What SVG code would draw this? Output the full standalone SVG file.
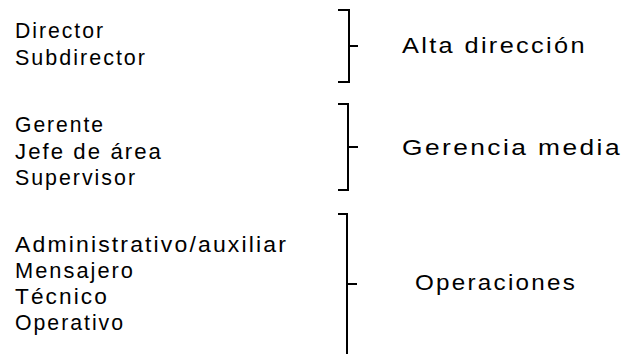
<svg xmlns="http://www.w3.org/2000/svg" width="625" height="354" viewBox="0 0 625 354">
<style>
text{font-family:"Liberation Sans",Arial,sans-serif;font-size:21.5px;fill:#000;letter-spacing:2px}
.br{fill:none;stroke:#000;stroke-width:2}
</style>
<rect width="625" height="354" fill="#fff"/>
<g id="alta-items">
<text x="15" y="38" textLength="90" lengthAdjust="spacingAndGlyphs">Director</text>
<text x="15" y="65" textLength="132" lengthAdjust="spacingAndGlyphs">Subdirector</text>
</g>
<g id="gerencia-items">
<text x="15" y="132" textLength="90" lengthAdjust="spacingAndGlyphs">Gerente</text>
<text x="15" y="159" textLength="148" lengthAdjust="spacingAndGlyphs">Jefe de área</text>
<text x="15" y="185" textLength="122" lengthAdjust="spacingAndGlyphs">Supervisor</text>
</g>
<g id="operaciones-items">
<text x="15" y="252" textLength="273" lengthAdjust="spacingAndGlyphs">Administrativo/auxiliar</text>
<text x="15" y="278" textLength="120" lengthAdjust="spacingAndGlyphs">Mensajero</text>
<text x="15" y="304" textLength="94" lengthAdjust="spacingAndGlyphs">Técnico</text>
<text x="15" y="330" textLength="110" lengthAdjust="spacingAndGlyphs">Operativo</text>
</g>
<g id="alta-label"><text x="402" y="53" textLength="185" lengthAdjust="spacingAndGlyphs">Alta dirección</text></g>
<g id="gerencia-label"><text x="402" y="155" textLength="220" lengthAdjust="spacingAndGlyphs">Gerencia media</text></g>
<g id="operaciones-label"><text x="415" y="290" textLength="162" lengthAdjust="spacingAndGlyphs">Operaciones</text></g>
<g id="connectors">
<path class="br" d="M338,10H349V82H338M349,46H358"/>
<path class="br" d="M338,104H348V190H338M348,147H358"/>
<path class="br" d="M338,214H347V354M347,284H357"/>
</g>
</svg>
